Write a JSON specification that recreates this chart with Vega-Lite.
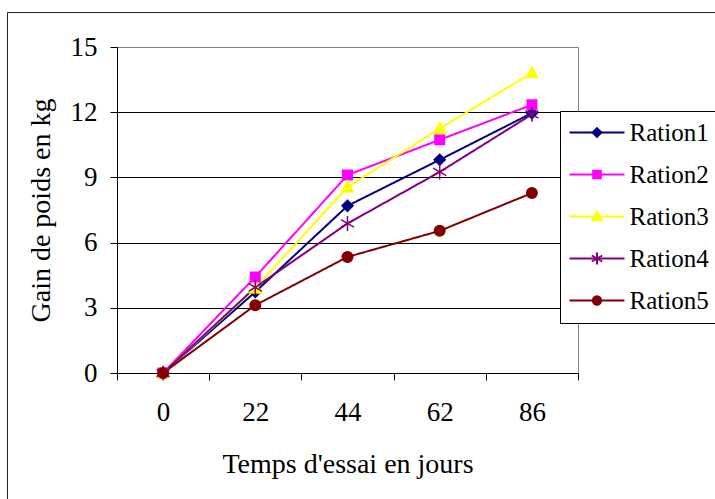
{
  "$schema": "https://vega.github.io/schema/vega-lite/v6.json",
  "autosize": {"type": "none"},
  "width": 461,
  "height": 326,
  "padding": {"left": 117, "top": 47, "right": 137, "bottom": 126},
  "background": "white",
  "config": {
    "font": "Liberation Serif",
    "view": {"stroke": "#808080", "strokeWidth": 1},
    "axis": {"labelColor": "black", "titleColor": "black", "titleFontWeight": "normal", "domainColor": "black", "tickColor": "black", "domainWidth": 1, "tickWidth": 1}
  },
  "data": {
    "values": [
      {"ration": "Ration1", "jours": 0, "gain": 0},
      {"ration": "Ration1", "jours": 22, "gain": 3.73},
      {"ration": "Ration1", "jours": 44, "gain": 7.69},
      {"ration": "Ration1", "jours": 62, "gain": 9.81},
      {"ration": "Ration1", "jours": 86, "gain": 11.96},
      {"ration": "Ration2", "jours": 0, "gain": 0},
      {"ration": "Ration2", "jours": 22, "gain": 4.42},
      {"ration": "Ration2", "jours": 44, "gain": 9.11},
      {"ration": "Ration2", "jours": 62, "gain": 10.73},
      {"ration": "Ration2", "jours": 86, "gain": 12.34},
      {"ration": "Ration3", "jours": 0, "gain": 0},
      {"ration": "Ration3", "jours": 22, "gain": 3.9},
      {"ration": "Ration3", "jours": 44, "gain": 8.56},
      {"ration": "Ration3", "jours": 62, "gain": 11.24},
      {"ration": "Ration3", "jours": 86, "gain": 13.81},
      {"ration": "Ration4", "jours": 0, "gain": 0},
      {"ration": "Ration4", "jours": 22, "gain": 3.94},
      {"ration": "Ration4", "jours": 44, "gain": 6.88},
      {"ration": "Ration4", "jours": 62, "gain": 9.25},
      {"ration": "Ration4", "jours": 86, "gain": 11.9},
      {"ration": "Ration5", "jours": 0, "gain": 0},
      {"ration": "Ration5", "jours": 22, "gain": 3.12},
      {"ration": "Ration5", "jours": 44, "gain": 5.34},
      {"ration": "Ration5", "jours": 62, "gain": 6.54},
      {"ration": "Ration5", "jours": 86, "gain": 8.28}
    ]
  },
  "encoding": {
    "x": {
      "field": "jours",
      "type": "ordinal",
      "scale": {"type": "band", "paddingInner": 0, "paddingOuter": 0},
      "axis": {
        "title": "Temps d'essai en jours",
        "labelAngle": 0,
        "tickBand": "extent",
        "tickSize": 7,
        "labelFontSize": 27,
        "labelPadding": 19,
        "titleFontSize": 28,
        "titlePadding": 25,
        "grid": false
      }
    },
    "y": {
      "field": "gain",
      "type": "quantitative",
      "scale": {"domain": [0, 15], "nice": false},
      "axis": {
        "title": "Gain de poids en kg",
        "values": [0, 3, 6, 9, 12, 15],
        "tickSize": 7,
        "labelFontSize": 27,
        "labelPadding": 13,
        "titleFontSize": 28,
        "titlePadding": 15,
        "grid": true,
        "gridColor": {"condition": {"test": "datum.value == 15", "value": "#808080"}, "value": "black"},
        "gridOpacity": 1,
        "gridWidth": 1
      }
    }
  },
  "layer": [
    {
      "mark": {"type": "line", "strokeWidth": 2},
      "encoding": {
        "color": {
          "field": "ration",
          "type": "nominal",
          "scale": {"range": ["#000080", "#FF00FF", "#FFFF00", "#800080", "#800000"]},
          "legend": {
            "orient": "none",
            "legendX": 443,
            "legendY": 64,
            "title": null,
            "labelFontSize": 25,
            "labelFont": "Liberation Serif",
            "labelColor": "black",
            "labelOpacity": 0,
            "labelLimit": 0,
            "padding": 9,
            "rowPadding": 16,
            "symbolType": "M-6.875,0H6.875",
            "symbolSize": 64,
            "symbolStrokeWidth": 2,
            "symbolOffset": 15.5,
            "labelOffset": 20,
            "strokeColor": "black",
            "fillColor": "white"
          }
        },
        "strokeDash": {
          "field": "ration",
          "type": "nominal",
          "scale": {
            "domain": ["Ration5", "Ration4", "Ration3", "Ration2", "Ration1"],
            "range": [[1, 0], [1, 0], [1, 0], [1, 0], [1, 0]]
          },
          "legend": {
            "orient": "none",
            "legendX": -110,
            "legendY": -35,
            "title": null,
            "labelExpr": "''",
            "labelOpacity": 0,
            "symbolOpacity": 0,
            "labelFontSize": 2,
            "symbolSize": 1,
            "rowPadding": 0,
            "padding": 520,
            "strokeColor": "#222222",
            "fillColor": "transparent"
          }
        }
      }
    },
    {
      "mark": {"type": "point", "filled": true, "opacity": 1, "size": 100, "strokeWidth": 1.5},
      "encoding": {
        "fill": {
          "field": "ration",
          "type": "nominal",
          "scale": {
            "domain": ["Ration1", "Ration2", "Ration3", "Ration4", "Ration5"],
            "range": ["#000080", "#FF00FF", "#FFFF00", "#800080", "#800000"]
          },
          "legend": {
            "orient": "none",
            "legendX": 443,
            "legendY": 64,
            "title": null,
            "labelFontSize": 25,
            "labelFont": "Liberation Serif",
            "labelColor": "black",
            "labelLimit": 0,
            "padding": 9,
            "rowPadding": 16,
            "symbolSize": 64,
            "symbolStrokeWidth": 2,
            "symbolOffset": 15.5,
            "labelOffset": 20,
            "symbolOpacity": 1
          }
        },
        "shape": {
          "field": "ration",
          "type": "nominal",
          "scale": {
            "domain": ["Ration1", "Ration2", "Ration3", "Ration4", "Ration5"],
            "range": [
              "M0,-1.1L1.1,0L0,1.1L-1.1,0Z",
              "M-0.95,-0.95H0.95V0.95H-0.95Z",
              "M0,-1.2L1.15,0.95H-1.15Z",
              "M0,-1.5V1.5M-1.3,-0.75L1.3,0.75M-1.3,0.75L1.3,-0.75",
              "M1.05,0A1.05,1.05,0,1,1,-1.05,0A1.05,1.05,0,1,1,1.05,0Z"
            ]
          },
          "legend": {
            "orient": "none",
            "legendX": 443,
            "legendY": 64,
            "title": null,
            "labelFontSize": 25,
            "labelFont": "Liberation Serif",
            "labelColor": "black",
            "labelLimit": 0,
            "padding": 9,
            "rowPadding": 16,
            "symbolSize": 64,
            "symbolStrokeWidth": 2,
            "symbolOffset": 15.5,
            "labelOffset": 20,
            "symbolOpacity": 1
          }
        },
        "stroke": {
          "field": "ration",
          "type": "nominal",
          "scale": {
            "domain": ["Ration1", "Ration2", "Ration3", "Ration4", "Ration5"],
            "range": ["#000080", "#FF00FF", "#FFFF00", "#800080", "#800000"]
          },
          "legend": {
            "orient": "none",
            "legendX": 443,
            "legendY": 64,
            "title": null,
            "labelFontSize": 25,
            "labelFont": "Liberation Serif",
            "labelColor": "black",
            "labelLimit": 0,
            "padding": 9,
            "rowPadding": 16,
            "symbolSize": 64,
            "symbolStrokeWidth": 2,
            "symbolOffset": 15.5,
            "labelOffset": 20,
            "symbolOpacity": 1
          }
        }
      }
    }
  ]
}
